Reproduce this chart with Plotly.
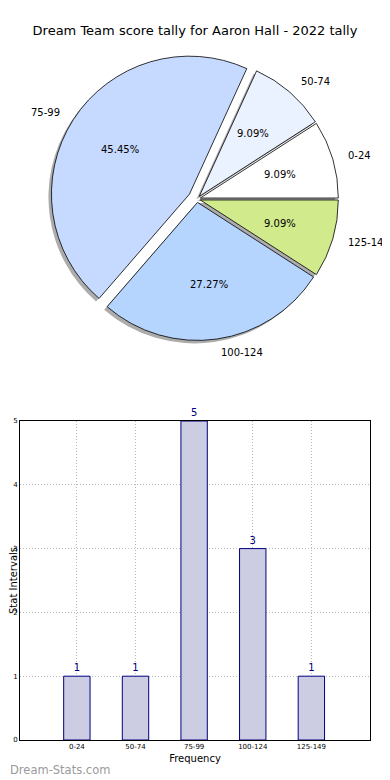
import math
import plotly.graph_objects as go

# ---- data ----
categories = ["0-24", "50-74", "75-99", "100-124", "125-149"]
counts = [1, 1, 5, 3, 1]
pie_colors = ["#ffffff", "#eaf1ff", "#c6d9ff", "#b5d5ff", "#d0ea8c"]
pulls = [0.025, 0.025, 0.065, 0.025, 0.025]
y_ticks = [0, 1, 2, 3, 4, 5]
title_text = "Dream Team score tally for Aaron Hall - 2022 tally"

# page is offset by the default 8px body margin
OFF = 8
W, H = 390 - OFF, 780 - OFF
FONT = "DejaVu Sans"


def px_x(p):
    return (p - OFF) / W


def px_y(p):
    return 1 - (p - OFF) / H


# first slice starts at 3 o'clock and runs counterclockwise
total = sum(counts)
start_rot = 90 - 360 * counts[0] / total

# pie geometry (page pixels) -> domain
cx, cy, r = 197, 199, 138
half = r * (1 + max(pulls))
pie_dom_x = [px_x(cx - half), px_x(cx + half)]
pie_dom_y = [px_y(cy + half), px_y(cy - half)]
sdx, sdy = 3 / W, 3 / H
shadow_dom_x = [pie_dom_x[0] - sdx, pie_dom_x[1] - sdx]
shadow_dom_y = [pie_dom_y[0] - sdy, pie_dom_y[1] - sdy]

fig = go.Figure()

common = dict(labels=categories, values=counts, sort=False, direction="counterclockwise",
              rotation=start_rot, pull=pulls, showlegend=False)

# shadow
fig.add_trace(go.Pie(
    **common, domain=dict(x=shadow_dom_x, y=shadow_dom_y),
    marker=dict(colors=["rgba(70,70,70,0.45)"] * len(categories), line=dict(width=0)),
    textinfo="none", hoverinfo="skip",
))
# main pie
fig.add_trace(go.Pie(
    **common, domain=dict(x=pie_dom_x, y=pie_dom_y),
    marker=dict(colors=pie_colors, line=dict(color="black", width=0.8)),
    textinfo="none",
    hovertemplate="%{label}: %{percent:.2%}<extra></extra>",
))

# percentage and category labels (matplotlib-style: autopct at 0.6r, labels at 1.1r)
annotations = []
cum = 0
for lab, v, p in zip(categories, counts, pulls):
    theta = math.radians((cum + v / 2) / total * 360)
    cum += v
    c, s = math.cos(theta), math.sin(theta)
    ox, oy = cx + p * r * c, cy - p * r * s
    annotations.append(dict(
        text=f"{v / total * 100:.2f}%", x=px_x(ox + 0.6 * r * c), y=px_y(oy - 0.6 * r * s),
        xref="paper", yref="paper", xanchor="center", yanchor="middle", showarrow=False,
        font=dict(family=FONT, size=10, color="black")))
    annotations.append(dict(
        text=lab, x=px_x(ox + 1.1 * r * c), y=px_y(oy - 1.1 * r * s),
        xref="paper", yref="paper", xanchor="left" if c > 0 else "right", yanchor="middle",
        showarrow=False, font=dict(family=FONT, size=10, color="black")))

# bar chart
fig.add_trace(go.Bar(
    x=categories, y=counts, width=0.45,
    marker=dict(color="#ccccE3", line=dict(color="#000080", width=1)),
    text=[str(v) for v in counts], textposition="outside", cliponaxis=False,
    textfont=dict(family=FONT, size=10, color="#000080"),
    xaxis="x", yaxis="y", showlegend=False,
))

bar_x = [px_x(20), px_x(370)]
bar_y = [px_y(740), px_y(421)]

annotations.append(dict(text="Dream-Stats.com", x=0, y=px_y(770), xref="paper", yref="paper",
                        xanchor="left", yanchor="middle", showarrow=False,
                        font=dict(family=FONT, size=11.5, color="#9a9a9a")))

fig.update_layout(
    width=W, height=H,
    margin=dict(l=0, r=0, t=0, b=0, autoexpand=False),
    paper_bgcolor="white", plot_bgcolor="white",
    font=dict(family=FONT, color="black"),
    title=dict(text=title_text, x=0.5 + (195 - OFF - W / 2) / W, xanchor="center",
               y=px_y(30), yanchor="middle",
               font=dict(family=FONT, size=13, color="black")),
    xaxis=dict(domain=bar_x, anchor="y", range=[-0.97, 5.0], automargin=False,
               showline=True, linecolor="black", linewidth=1, mirror=True,
               showgrid=True, gridcolor="#b8b8b8", griddash="1px,2px", gridwidth=1,
               ticks="", tickfont=dict(family=FONT, size=7, color="black"),
               title=dict(text="Frequency", font=dict(family=FONT, size=10, color="black"), standoff=4)),
    yaxis=dict(domain=bar_y, anchor="x", range=[0, 5], tickvals=y_ticks, automargin=False,
               showline=True, linecolor="black", linewidth=1, mirror=True,
               showgrid=True, gridcolor="#b8b8b8", griddash="1px,2px", gridwidth=1,
               ticks="", zeroline=False, tickfont=dict(family=FONT, size=7, color="black"),
               title=dict(text="Stat Intervals", font=dict(family=FONT, size=10, color="black"), standoff=2)),
    annotations=annotations,
)

fig.write_html("out.html")
